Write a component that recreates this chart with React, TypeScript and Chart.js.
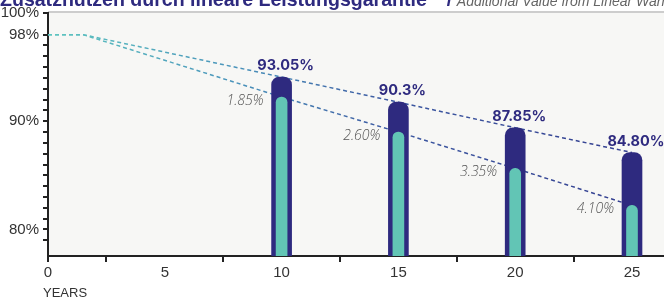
import React, { useEffect, useRef } from "react";
import { Chart, registerables } from "chart.js";

Chart.register(...registerables);

// ---- data ----
const years = [10, 15, 20, 25];
const outerValues = [94.08, 91.76, 89.4, 87.11];
const innerValues = [92.24, 89.0, 85.64, 82.22];
const guaranteeLabels = ["93.05%", "90.3%", "87.85%", "84.80%"];
const lossLabels = ["1.85%", "2.60%", "3.35%", "4.10%"];
const lineX = [0, 1.5, 10, 15, 20, 25];
const upperLineY = [98, 98, 94.08, 91.76, 89.4, 87.11];
const lowerLineY = [98, 98, 92.24, 89.0, 85.64, 82.22];
const yLabelValues = [100, 98, 90, 80];
const yHiddenTicks = [99];
const xLabelValues = [0, 5, 10, 15, 20, 25];
const xMinorTicks = [2.5, 7.5, 12.5, 17.5, 22.5];
const titleMain = "Zusatznutzen durch lineare Leistungsgarantie";
const titleSub = "Additional Value from Linear Warranty";
const xAxisTitle = "YEARS";

const NAVY = "#2e2a7f";
const TEAL = "#62c5b5";
const TEXT = "#333333";

const r3 = (v: number) => Math.round(v * 1000) / 1000;

function lineGradient(ctx: any) {
  const chart = ctx.chart;
  const area = chart.chartArea;
  if (!area) return TEAL;
  const g = chart.ctx.createLinearGradient(area.left, 0, area.right, 0);
  g.addColorStop(0, "#5fc6c0");
  g.addColorStop(0.3, "#4a94bb");
  g.addColorStop(0.55, "#3d5aa2");
  g.addColorStop(1, "#333c8e");
  return g;
}

const decorPlugin = {
  id: "decor",
  beforeDraw(chart: any) {
    const { ctx, chartArea } = chart;
    ctx.save();
    ctx.fillStyle = "#f7f7f5";
    ctx.fillRect(chartArea.left, chartArea.top, chartArea.right - chartArea.left, chartArea.bottom - chartArea.top);
    ctx.strokeStyle = "#cdcdcd";
    ctx.lineWidth = 2;
    ctx.beginPath();
    ctx.moveTo(chartArea.left, chartArea.top - 1);
    ctx.lineTo(chartArea.right, chartArea.top - 1);
    ctx.stroke();
    ctx.restore();
  },
  afterDatasetsDraw(chart: any) {
    const { ctx } = chart;
    const outer = chart.getDatasetMeta(1).data;
    const inner = chart.getDatasetMeta(0).data;
    ctx.save();
    for (let i = 0; i < years.length; i++) {
      const o = outer[i];
      const t = inner[i];
      ctx.font = "700 14.5px Inter";
      ctx.fillStyle = NAVY;
      ctx.textAlign = "center";
      ctx.textBaseline = "alphabetic";
      ctx.fillText(guaranteeLabels[i], o.x + 4, o.y - 7);
      ctx.font = "italic 300 14px 'Open Sans'";
      ctx.fillStyle = "#555555";
      ctx.textAlign = "right";
      ctx.fillText(lossLabels[i], o.x - o.width / 2 - 8, t.y + 8);
    }
    ctx.restore();
  },
  afterDraw(chart: any) {
    const { ctx, chartArea } = chart;
    ctx.save();
    ctx.textBaseline = "alphabetic";
    ctx.textAlign = "left";
    ctx.font = "bold 20px 'Liberation Sans'";
    const w0 = ctx.measureText(titleMain).width;
    const size = (20 * 427) / w0;
    ctx.font = `bold ${size}px 'Liberation Sans'`;
    ctx.fillStyle = NAVY;
    ctx.fillText(titleMain, 0, 6);
    const w = ctx.measureText(titleMain).width;
    ctx.fillText("/", w + 20, 6);
    ctx.font = "italic 14px 'Liberation Sans'";
    ctx.fillStyle = "#666666";
    ctx.fillText(titleSub, w + 30, 6);
    ctx.font = "13px 'Liberation Sans'";
    ctx.fillStyle = TEXT;
    ctx.fillText(xAxisTitle, chartArea.left - 5, chart.height - 2);
    ctx.restore();
  },
};

export default function App() {
  const ref = useRef<HTMLCanvasElement | null>(null);
  useEffect(() => {
    document.body.style.margin = "0";
    const canvas = ref.current!;
    const chart = new Chart(canvas, {
      type: "bar",
      data: {
        datasets: [
          {
            type: "bar",
            data: years.map((x, i) => ({ x, y: innerValues[i] })),
            backgroundColor: TEAL,
            barThickness: 11,
            borderRadius: { topLeft: 6, topRight: 6, bottomLeft: 0, bottomRight: 0 },
            borderSkipped: false,
            grouped: false,
            order: 0,
          } as any,
          {
            type: "bar",
            data: years.map((x, i) => ({ x, y: outerValues[i] })),
            backgroundColor: NAVY,
            barThickness: 20,
            borderRadius: { topLeft: 8, topRight: 8, bottomLeft: 0, bottomRight: 0 },
            borderSkipped: false,
            grouped: false,
            order: 1,
          } as any,
          {
            type: "line",
            data: lineX.map((x, i) => ({ x, y: upperLineY[i] })),
            borderColor: lineGradient,
            borderWidth: 1.5,
            borderDash: [4, 3],
            pointRadius: 0,
            tension: 0,
            fill: false,
            order: 2,
          } as any,
          {
            type: "line",
            data: lineX.map((x, i) => ({ x, y: lowerLineY[i] })),
            borderColor: lineGradient,
            borderWidth: 1.5,
            borderDash: [4, 3],
            pointRadius: 0,
            tension: 0,
            fill: false,
            order: 3,
          } as any,
        ],
      },
      options: {
        responsive: false,
        animation: false,
        devicePixelRatio: 1,
        layout: { padding: { top: 11, right: 0, left: 0, bottom: 0 } },
        plugins: { legend: { display: false }, tooltip: { enabled: false }, title: { display: false } },
        scales: {
          x: {
            type: "linear",
            offset: false,
            min: 0,
            max: 26.37,
            border: { display: true, color: "#222222", width: 2 },
            grid: {
              offset: false,
              drawOnChartArea: false,
              drawTicks: true,
              tickLength: 6,
              lineWidth: 2,
              color: (c: any) => {
                const v = c.tick ? r3(c.tick.value) : 0;
                if (v === 0 || xMinorTicks.includes(v)) return "#222222";
                return "rgba(0,0,0,0)";
              },
            },
            afterBuildTicks: (s: any) => {
              s.ticks = [...xLabelValues, ...xMinorTicks].sort((a, b) => a - b).map((value) => ({ value }));
            },
            ticks: {
              autoSkip: false,
              maxRotation: 0,
              padding: 2,
              color: TEXT,
              font: { family: "'Liberation Sans'", size: 15 },
              callback: (v: any) => (xLabelValues.includes(r3(Number(v))) ? String(r3(Number(v))) : ""),
            },
            afterFit: (s: any) => {
              s.height = 43;
            },
          },
          y: {
            type: "linear",
            min: 77.55,
            max: 100,
            beginAtZero: false,
            border: { display: true, color: "#222222", width: 2 },
            grid: {
              drawOnChartArea: false,
              drawTicks: true,
              tickLength: 5,
              lineWidth: 2,
              color: (c: any) => (c.tick && yHiddenTicks.includes(r3(c.tick.value)) ? "rgba(0,0,0,0)" : "#222222"),
            },
            afterBuildTicks: (s: any) => {
              s.ticks = s.ticks.filter((t: any) => Number.isInteger(r3(t.value)) && t.value >= 78);
            },
            ticks: {
              stepSize: 1,
              autoSkip: false,
              padding: 4,
              color: TEXT,
              font: { family: "'Liberation Sans'", size: 15 },
              callback: (v: any) => (yLabelValues.includes(r3(Number(v))) ? r3(Number(v)) + "%" : ""),
            },
            afterFit: (s: any) => {
              s.width = 48;
            },
          },
        },
      },
      plugins: [decorPlugin],
    });
    return () => chart.destroy();
  }, []);
  return <canvas ref={ref} width={664} height={299} style={{ display: "block", width: 664, height: 299 }} />;
}
